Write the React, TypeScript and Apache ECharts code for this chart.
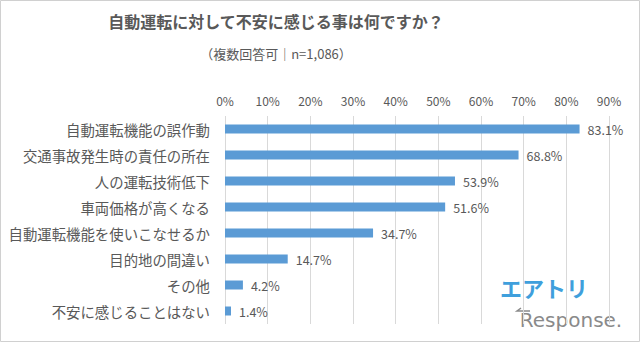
import React, { useEffect, useRef } from "react";
import * as echarts from "echarts";

const categories = [
  "自動運転機能の誤作動",
  "交通事故発生時の責任の所在",
  "人の運転技術低下",
  "車両価格が高くなる",
  "自動運転機能を使いこなせるか",
  "目的地の間違い",
  "その他",
  "不安に感じることはない",
];
const values = [83.1, 68.8, 53.9, 51.6, 34.7, 14.7, 4.2, 1.4];
const titleText = "自動運転に対して不安に感じる事は何ですか？";
const subtitleText = "（複数回答可｜n=1,086）";

const FONT = "'Noto Sans CJK JP', 'Noto Sans', sans-serif";
const TEXT = "#595959";

export default function App() {
  const ref = useRef<HTMLDivElement>(null);
  useEffect(() => {
    if (!ref.current) return;
    const chart = echarts.init(ref.current, null, { renderer: "svg" });
    chart.setOption({
      animation: false,
      backgroundColor: "#ffffff",
      textStyle: { fontFamily: FONT },
      grid: { left: 225, right: 31, top: 116, bottom: 18 },
      xAxis: {
        type: "value",
        position: "top",
        min: 0,
        max: 90,
        interval: 10,
        axisLine: { show: false },
        axisTick: { show: false },
        axisLabel: {
          formatter: "{value}%",
          color: TEXT,
          fontSize: 12,
          fontFamily: FONT,
          margin: 10,
        },
        splitLine: { lineStyle: { color: "#d9d9d9", width: 1 } },
      },
      yAxis: {
        type: "category",
        data: categories,
        inverse: true,
        axisLine: { show: false },
        axisTick: { show: false },
        axisLabel: { color: TEXT, fontSize: 14.4, fontFamily: FONT, margin: 15 },
      },
      series: [
        {
          type: "bar",
          data: values,
          barWidth: 9,
          itemStyle: { color: "#5b9bd5" },
          label: {
            show: true,
            position: "right",
            distance: 8,
            color: TEXT,
            fontSize: 12.5,
            fontFamily: FONT,
            formatter: (p: any) => p.value.toFixed(1) + "%",
          },
        },
      ],
      graphic: [
        {
          type: "rect",
          shape: { x: 0.5, y: 0.5, width: 639, height: 341 },
          style: { fill: "none", stroke: "#d0d0d0", lineWidth: 1 },
          silent: true,
        },
        {
          type: "text",
          x: 276,
          y: 21,
          style: {
            text: titleText,
            fill: TEXT,
            font: `bold 16px ${FONT}`,
            textAlign: "center",
            textVerticalAlign: "middle",
          },
        },
        {
          type: "text",
          x: 276,
          y: 53,
          style: {
            text: subtitleText,
            fill: TEXT,
            font: `13px ${FONT}`,
            textAlign: "center",
            textVerticalAlign: "middle",
          },
        },
        {
          type: "text",
          x: 544,
          y: 287,
          style: {
            text: "エアトリ",
            fill: "#3f9fdc",
            font: `bold 22px ${FONT}`,
            textAlign: "center",
            textVerticalAlign: "middle",
          },
        },
        {
          type: "polyline",
          shape: { points: [[530, 311], [517, 311], [521, 308]] },
          style: { stroke: "#8a8a8a", lineWidth: 1.5, fill: "none" },
        },
        {
          type: "text",
          x: 571,
          y: 320,
          style: {
            text: "Response.",
            fill: "#8a8a8a",
            font: `20px 'DejaVu Sans', sans-serif`,
            textAlign: "center",
            textVerticalAlign: "middle",
          },
        },
      ],
    });
    return () => chart.dispose();
  }, []);
  return (
    <div
      ref={ref}
      style={{ position: "fixed", left: 0, top: 0, width: 640, height: 342 }}
    />
  );
}
